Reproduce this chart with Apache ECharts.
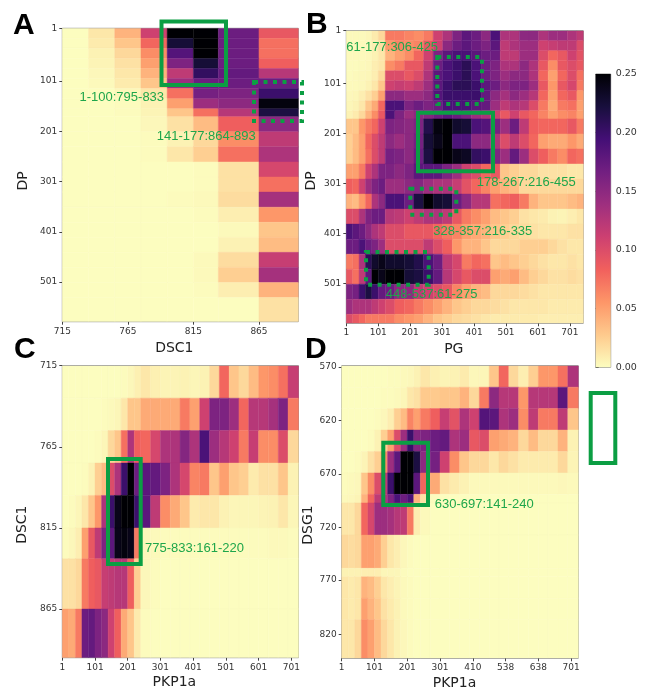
<!DOCTYPE html>
<html><head><meta charset="utf-8">
<style>html,body{margin:0;padding:0;background:#fff}#c{width:652px;height:699px}</style>
<script src="https://cdn.jsdelivr.net/npm/echarts@6/dist/echarts.min.js"></script>
</head><body><div id="c"></div>
<script>
// ---- colour scale
const magmaR = ['#fcfdbf','#feca8d','#fd9668','#f1605d','#cd4071','#9e2f7f','#721f81','#440f76','#180f3d','#000004'];
// ---- bin edges
const dscEdges = [715,735,755,775,795,815,834,865,895];
const dpEdgesA = [1,21,41,61,81,101,121,141,161,177,207,237,267,297,327,357,387,417,447,477,507,537,585];
const dpEdgesB = [1,21,41,61,81,101,121,141,161,177,207,237,267,297,327,357,387,417,447,477,507,537,567,585];
const pgEdges = [1,21,41,61,81,101,123,153,183,213,243,273,303,333,363,393,423,453,483,513,543,573,603,633,663,693,723,743];
const pkpEdges = [1,21,41,61,81,101,121,141,161,181,201,221,241,271,301,331,361,391,421,451,481,511,541,571,601,631,661,691,723];
const dsgEdges = [570,590,610,630,650,670,690,698,728,759,767,787,807,843];
// ---- panel A: DP (rows) x DSC1 (columns)
const valuesA = [
[0,.012,.04,.11,.25,.25,.17,.09],
[0,.01,.03,.08,.225,.25,.17,.075],
[0,.006,.02,.06,.185,.25,.17,.075],
[0,.005,.015,.05,.16,.225,.17,.085],
[0,.003,.012,.04,.12,.205,.175,.125],
[0,.002,.01,.03,.14,.17,.17,.17],
[0,0,.003,.012,.075,.165,.16,.2],
[0,0,.001,.006,.05,.14,.15,.245],
[0,0,.001,.005,.03,.075,.125,.22],
[0,0,0,.003,.015,.035,.085,.15],
[0,0,0,.001,.006,.02,.06,.12],
[0,0,0,.001,.012,.025,.075,.13],
[0,0,0,0,0,.001,.015,.105],
[0,0,0,0,0,.001,.015,.075],
[0,0,0,0,.001,.002,.018,.135],
[0,0,0,0,0,.001,.008,.055],
[0,0,0,0,0,0,.002,.03],
[0,0,0,0,0,0,.006,.035],
[0,0,0,0,0,.002,.018,.115],
[0,0,0,0,0,.002,.025,.135],
[0,0,0,0,0,.001,.008,.04],
[0,0,0,0,0,0,0,.015]];
// ---- panel B: DP (rows) x PG (columns)
const valuesB = [
[.002,.002,.002,.004,.01,.02,.07,.07,.065,.06,.07,.11,.13,.16,.18,.17,.15,.19,.13,.13,.15,.15,.13,.14,.14,.13,.12],
[.002,.002,.002,.003,.008,.015,.055,.065,.06,.065,.09,.11,.15,.17,.18,.17,.16,.18,.12,.13,.14,.14,.11,.115,.12,.12,.10],
[.002,.002,.002,.003,.006,.012,.04,.05,.06,.08,.11,.16,.18,.19,.19,.18,.17,.17,.12,.12,.14,.14,.1,.08,.09,.11,.095],
[.001,.001,.002,.003,.008,.012,.06,.07,.09,.09,.12,.17,.19,.2,.21,.19,.17,.16,.13,.13,.15,.13,.09,.06,.09,.1,.09],
[.001,.002,.003,.004,.008,.02,.1,.1,.09,.1,.13,.18,.19,.2,.21,.19,.17,.16,.14,.15,.15,.13,.08,.05,.08,.1,.075],
[.002,.002,.003,.006,.012,.03,.11,.115,.11,.12,.14,.18,.2,.21,.21,.2,.18,.17,.15,.16,.16,.14,.09,.055,.09,.105,.07],
[.003,.004,.008,.015,.025,.05,.15,.15,.14,.14,.15,.185,.2,.2,.2,.2,.175,.15,.135,.15,.14,.125,.08,.05,.08,.09,.055],
[.004,.006,.012,.03,.045,.08,.19,.19,.16,.17,.16,.17,.19,.19,.19,.18,.175,.14,.12,.13,.125,.10,.07,.045,.07,.075,.05],
[.006,.01,.02,.04,.06,.09,.19,.16,.14,.15,.155,.17,.18,.17,.16,.14,.13,.11,.09,.11,.09,.08,.065,.05,.06,.065,.05],
[.03,.03,.055,.07,.08,.11,.16,.155,.15,.16,.215,.245,.25,.23,.225,.19,.185,.165,.14,.17,.12,.085,.08,.08,.08,.09,.07],
[.025,.035,.05,.08,.1,.12,.15,.14,.15,.165,.225,.24,.25,.19,.19,.15,.15,.13,.1,.12,.1,.08,.05,.045,.045,.055,.045],
[.025,.035,.05,.075,.1,.12,.165,.16,.15,.17,.22,.25,.25,.24,.235,.205,.2,.16,.14,.175,.14,.10,.085,.07,.06,.08,.075],
[.05,.05,.07,.11,.13,.16,.16,.15,.16,.18,.18,.18,.16,.14,.11,.10,.08,.09,.03,.025,.02,.02,.015,.015,.015,.012,.012],
[.085,.08,.11,.14,.16,.17,.14,.14,.15,.155,.14,.13,.13,.115,.095,.08,.065,.05,.04,.035,.02,.02,.02,.02,.02,.02,.02],
[.04,.035,.055,.08,.13,.15,.19,.19,.17,.22,.25,.23,.225,.17,.15,.125,.125,.075,.08,.085,.07,.04,.03,.03,.03,.035,.04],
[.1,.1,.13,.16,.17,.17,.125,.12,.11,.12,.13,.13,.12,.09,.07,.06,.05,.035,.03,.025,.015,.012,.01,.006,.005,.008,.012],
[.19,.18,.17,.15,.13,.12,.1,.1,.09,.09,.09,.08,.07,.065,.05,.045,.04,.03,.025,.02,.018,.015,.012,.012,.012,.015,.015],
[.17,.17,.19,.17,.16,.14,.1,.1,.1,.1,.12,.1,.085,.055,.04,.04,.03,.02,.02,.02,.025,.025,.025,.02,.015,.012,.012],
[.07,.075,.13,.21,.23,.24,.23,.23,.225,.215,.19,.17,.12,.105,.07,.08,.075,.03,.035,.03,.025,.02,.015,.012,.012,.015,.012],
[.09,.075,.12,.18,.25,.24,.25,.25,.225,.22,.2,.175,.125,.105,.09,.1,.1,.05,.045,.05,.035,.025,.02,.015,.015,.018,.015],
[.16,.165,.2,.22,.2,.175,.17,.15,.15,.12,.11,.1,.09,.065,.05,.04,.035,.02,.02,.02,.018,.015,.012,.012,.012,.012,.012],
[.14,.13,.13,.13,.12,.11,.1,.085,.08,.07,.06,.05,.04,.03,.025,.02,.02,.018,.015,.012,.012,.012,.012,.01,.01,.01,.01],
[.1,.09,.08,.07,.07,.07,.07,.06,.055,.05,.04,.03,.025,.02,.018,.015,.012,.01,.01,.01,.01,.01,.008,.008,.008,.008,.008]];
// ---- panel C: DSC1 (rows) x PKP1a (columns)
const valuesC = [
[0,0,0,0,0,0,0,0,0,.001,.003,.007,.012,.007,.005,.005,.006,.004,.006,.02,.08,.03,.02,.035,.055,.06,.075,.115],
[0,0,0,0,0,0,.001,.002,.004,.012,.03,.03,.045,.045,.045,.045,.07,.05,.11,.16,.16,.14,.08,.125,.125,.135,.16,.07],
[0,0,0,0,0,.001,.004,.02,.03,.075,.13,.085,.08,.105,.13,.13,.155,.13,.19,.14,.125,.11,.07,.115,.06,.06,.1,.02],
[0,0,0,.001,.006,.025,.035,.1,.13,.2,.25,.17,.18,.175,.16,.13,.105,.065,.07,.03,.05,.03,.025,.01,.015,.015,.03,.006],
[0,.001,.004,.012,.03,.055,.13,.2,.24,.25,.25,.2,.18,.12,.06,.045,.03,.01,.012,.012,.006,.004,.004,.004,.005,.006,.012,.004],
[.001,.003,.008,.05,.09,.12,.16,.18,.24,.245,.24,.07,.003,.002,.001,.001,.001,.001,.001,.001,.001,.001,.001,.001,.001,.002,.002,.001],
[.015,.015,.02,.07,.085,.09,.115,.12,.125,.125,.085,.025,.003,.001,0,0,0,0,0,0,0,0,0,0,0,0,0,0],
[.05,.045,.07,.17,.175,.16,.15,.11,.085,.045,.03,.01,.001,0,0,0,0,0,0,0,0,0,0,0,0,0,0,0]];
// ---- panel D: DSG1 (rows) x PKP1a (columns)
const valuesD = [
[0,0,0,0,0,0,0,.001,.001,.002,.003,.006,.012,.007,.005,.006,.01,.003,.004,.03,.08,.02,.008,.025,.055,.055,.075,.13],
[0,0,0,0,0,0,.001,.001,.002,.004,.012,.015,.028,.028,.03,.03,.04,.02,.07,.15,.125,.125,.055,.125,.125,.125,.18,.07],
[0,0,0,0,0,.001,.003,.008,.025,.035,.065,.05,.07,.085,.115,.095,.13,.11,.185,.18,.13,.14,.06,.12,.07,.07,.12,.03],
[0,0,0,0,.001,.006,.025,.05,.1,.14,.2,.155,.16,.17,.175,.13,.14,.09,.1,.05,.045,.04,.02,.035,.02,.02,.04,.006],
[0,0,.001,.005,.015,.025,.06,.14,.18,.25,.25,.22,.15,.165,.11,.06,.03,.02,.02,.012,.02,.015,.01,.01,.01,.01,.02,.005],
[.001,.002,.003,.03,.06,.1,.12,.2,.25,.25,.25,.18,.08,.045,.015,.01,.006,.002,.002,.002,.002,.002,.002,.002,.002,.002,.003,.002],
[.002,.003,.005,.04,.08,.12,.13,.16,.19,.17,.19,.04,.015,.001,0,0,0,0,0,0,0,0,0,0,0,0,0,0],
[.012,.012,.02,.08,.105,.14,.14,.135,.125,.12,.07,.008,.002,0,0,0,0,0,0,0,0,0,0,0,0,0,0,0],
[.02,.018,.02,.05,.05,.045,.025,.012,.008,.003,.001,0,0,0,0,0,0,0,0,0,0,0,0,0,0,0,0,0],
[.006,.006,.006,.008,.008,.008,.004,.004,.004,.001,0,0,0,0,0,0,0,0,0,0,0,0,0,0,0,0,0,0],
[.012,.01,.012,.04,.035,.025,.012,.008,.005,.002,.001,0,0,0,0,0,0,0,0,0,0,0,0,0,0,0,0,0],
[.012,.01,.012,.05,.04,.03,.015,.01,.006,.002,.001,0,0,0,0,0,0,0,0,0,0,0,0,0,0,0,0,0],
[.012,.012,.02,.06,.05,.035,.02,.012,.006,.003,.001,0,0,0,0,0,0,0,0,0,0,0,0,0,0,0,0,0]];
// ---- tick positions and labels
const ticksDP = [1,106,206,306,406,506];
const labelsDP = ['1','101','201','301','401','501'];
const ticksDSC = [715,765,815,865];
const labelsDSC = ['715','765','815','865'];
const ticksPG = [1,101,201,301,401,501,601,701];
const labelsPG = ['1','101','201','301','401','501','601','701'];
const labelsPKPc = ['1','101','201','301','401','501','601','701'];
const labelsPKPd = ['1','101','201','301','410','538','638','701'];
const ticksDSG = [571,621,671,721,770,821];
const labelsDSG = ['570','620','670','720','770','820'];
const barTop = 0.25;

const TICK = {fontFamily:'DejaVu Sans',fontSize:9,color:'#333'};
const NAME = {fontFamily:'DejaVu Sans',fontSize:14,color:'#222'};
const GREEN = '#0b9e43', TXT = '#1ea64b';

function cells(xE,yE,vals){
  const out=[];
  vals.forEach((row,r)=>row.forEach((v,c)=>out.push([xE[c],xE[c+1],yE[r],yE[r+1],v])));
  return out;
}
function renderCell(params,api){
  const a=api.coord([api.value(0),api.value(2)]), b=api.coord([api.value(1),api.value(3)]);
  const col=api.visual('color');
  return {type:'rect',
    shape:{x:Math.min(a[0],b[0]),y:Math.min(a[1],b[1]),width:Math.abs(b[0]-a[0]),height:Math.abs(b[1]-a[1])},
    style:{fill:col,stroke:col,lineWidth:0.4}};
}
function heat(i,xE,yE,vals){
  return {type:'custom',xAxisIndex:i,yAxisIndex:i,clip:true,renderItem:renderCell,
    encode:{x:[0,1],y:[2,3]},data:cells(xE,yE,vals),silent:true};
}
function axis(gi,o){
  const map=new Map(o.ticks.map((t,k)=>[t,o.labels[k]]));
  return {type:'value',gridIndex:gi,min:o.min,max:o.max,inverse:!!o.inverse,
    name:o.name,nameLocation:'middle',nameGap:o.gap,
    nameTextStyle:Object.assign({},NAME,{padding:[0,o.shift||0,0,0]}),
    splitLine:{show:false},axisLine:{show:false},
    axisTick:{show:true,length:3,customValues:o.ticks,lineStyle:{color:'#444',width:1}},
    axisLabel:Object.assign({},TICK,{margin:5,customValues:o.ticks,showMinLabel:true,showMaxLabel:true,hideOverlap:false,formatter:v=>map.get(v)||''})};
}
const rect=(x0,y0,x1,y1,lw,dash)=>({type:'rect',silent:true,z:50,
  shape:{x:x0+lw/2,y:y0+lw/2,width:x1-x0-lw,height:y1-y0-lw},
  style:{fill:null,stroke:GREEN,lineWidth:lw,lineDash:dash||null,lineCap:'butt'}});
const note=(x,y,t)=>({type:'text',silent:true,z:51,x:x,y:y,
  style:{text:t,fill:TXT,fontFamily:'Liberation Sans',fontSize:13,textVerticalAlign:'middle',textBaseline:'middle'}});
const letter=(x,y,t)=>({type:'text',silent:true,z:51,x:x,y:y,
  style:{text:t,fill:'#000',fontFamily:'Liberation Sans',fontWeight:'bold',fontSize:30,textBaseline:'middle',textVerticalAlign:'middle'}});
const grid=(l,t,r,b)=>({left:l,top:t,width:r-l,height:b-t,show:true,borderColor:'#8c8c8c',borderWidth:1,backgroundColor:'transparent'});
const DOTS=[4,5.5];

const option={
  animation:false,backgroundColor:'#fff',
  grid:[grid(62.3,28.3,298.3,321.7),grid(346.3,30.7,583.3,323.3),grid(62.3,365.7,298.5,657.7),grid(341.7,365.7,578.3,658.3),
        {left:595.7,top:74,width:15,height:293.3,show:true,borderColor:'#8c8c8c',borderWidth:1,backgroundColor:'transparent'}],
  xAxis:[
    axis(0,{min:715,max:895,ticks:ticksDSC,labels:labelsDSC,name:'DSC1',gap:20,shift:12}),
    axis(1,{min:1,max:743,ticks:ticksPG,labels:labelsPG,name:'PG',gap:19,shift:22}),
    axis(2,{min:1,max:723,ticks:ticksPG,labels:labelsPKPc,name:'PKP1a',gap:18,shift:12}),
    axis(3,{min:1,max:723,ticks:ticksPG,labels:labelsPKPd,name:'PKP1a',gap:18,shift:11}),
    {type:'value',gridIndex:4,min:0,max:1,show:false}
  ],
  yAxis:[
    axis(0,{min:1,max:585,inverse:true,ticks:ticksDP,labels:labelsDP,name:'DP',gap:32,shift:12}),
    axis(1,{min:1,max:585,inverse:true,ticks:ticksDP,labels:labelsDP,name:'DP',gap:28,shift:8}),
    axis(2,{min:715,max:895,inverse:true,ticks:ticksDSC,labels:labelsDSC,name:'DSC1',gap:32.5,shift:26}),
    axis(3,{min:570,max:843,inverse:true,ticks:ticksDSG,labels:labelsDSG,name:'DSG1',gap:23,shift:26}),
    {type:'value',gridIndex:4,min:0,max:barTop,interval:0.05,position:'right',splitLine:{show:false},
     axisLine:{show:false},axisTick:{show:true,length:3,lineStyle:{color:'#444'}},
     axisLabel:Object.assign({},TICK,{margin:5,fontSize:9.5,formatter:v=>v.toFixed(2)})}
  ],
  visualMap:{show:false,type:'continuous',seriesIndex:[0,1,2,3],dimension:4,min:0,max:barTop,inRange:{color:magmaR}},
  series:[
    heat(0,dscEdges,dpEdgesA,valuesA),
    heat(1,pgEdges,dpEdgesB,valuesB),
    heat(2,pkpEdges,dscEdges,valuesC),
    heat(3,pkpEdges,dsgEdges,valuesD),
    {type:'custom',xAxisIndex:4,yAxisIndex:4,silent:true,data:[[0,1,0,barTop]],encode:{x:[0,1],y:[2,3]},
     renderItem:(p,api)=>{
       const a=api.coord([api.value(0),api.value(3)]), b=api.coord([api.value(1),api.value(2)]);
       const stops=magmaR.map((c,i)=>({offset:1-i/(magmaR.length-1),color:c}));
       return {type:'rect',shape:{x:a[0],y:a[1],width:b[0]-a[0],height:b[1]-a[1]},
         style:{fill:new echarts.graphic.LinearGradient(0,0,0,1,stops.reverse())}};
     }}
  ],
  graphic:[
    letter(13,26,'A'),letter(306,25,'B'),letter(14,350,'C'),letter(305,350,'D'),
    rect(159.5,19.5,228,87,4),
    rect(252,80,304,123,4,DOTS),
    note(79.5,97.7,'1-100:795-833'),note(156.7,136.7,'141-177:864-893'),
    rect(416,110.7,495,173.3,4),
    rect(435.3,55,484,106,4,DOTS),
    rect(408.3,186.7,458.3,216.7,4,DOTS),
    rect(364,250,430.7,286.7,4,DOTS),
    note(346.3,47.7,'61-177:306-425'),note(476.7,182.3,'178-267:216-455'),
    note(433.3,231,'328-357:216-335'),note(385.7,294,'448-537:61-275'),
    rect(106,457,142.7,566,4),
    note(145,548.3,'775-833:161-220'),
    rect(381.3,440.7,430,507,4),
    note(434.7,504.3,'630-697:141-240'),
    rect(588.7,391,617.3,465,4)
  ]
};
echarts.init(document.getElementById('c'),null,{renderer:'canvas'}).setOption(option);
</script></body></html>
